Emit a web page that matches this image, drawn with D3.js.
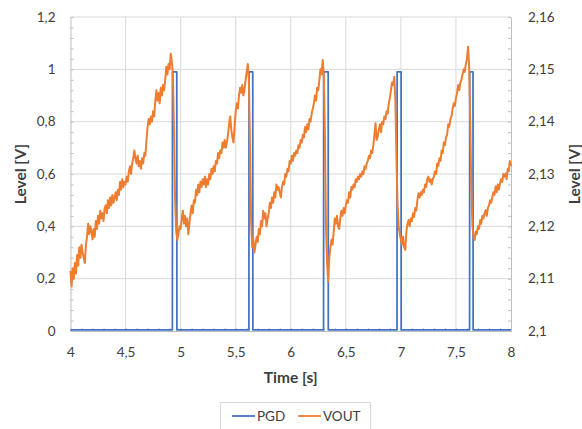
<!DOCTYPE html>
<html>
<head>
<meta charset="utf-8">
<script src="https://cdn.jsdelivr.net/npm/d3@7"></script>
<style>
  body { margin: 0; background: #fff; }
  svg text { font-family: Lato, "Open Sans", sans-serif; fill: #404040; }
</style>
</head>
<body>
<div id="chart"></div>
<script>
// sample clock of the scope capture (VOUT samples every 10 ms from 4 s)
const voutStart = 4;
const voutStep = 0.01;

// VOUT [V], secondary axis
const voutLevel = [
  2.1115, 2.1085, 2.1120, 2.1100, 2.1130, 2.1110, 2.1145, 2.1125, 2.1160, 2.1140,
  2.1165, 2.1150, 2.1140, 2.1130, 2.1165, 2.1180, 2.1205, 2.1185, 2.1200, 2.1190,
  2.1175, 2.1195, 2.1180, 2.1210, 2.1195, 2.1220, 2.1205, 2.1230, 2.1215, 2.1225,
  2.1210, 2.1235, 2.1240, 2.1225, 2.1250, 2.1235, 2.1255, 2.1240, 2.1260, 2.1245,
  2.1255, 2.1265, 2.1250, 2.1270, 2.1260, 2.1285, 2.1270, 2.1290, 2.1275, 2.1285,
  2.1280, 2.1295, 2.1285, 2.1305, 2.1315, 2.1300, 2.1320, 2.1330, 2.1345, 2.1330,
  2.1320, 2.1335, 2.1315, 2.1325, 2.1310, 2.1330, 2.1320, 2.1340, 2.1335, 2.1365,
  2.1390, 2.1405, 2.1395, 2.1410, 2.1400, 2.1420, 2.1410, 2.1440, 2.1460, 2.1440,
  2.1455, 2.1435, 2.1465, 2.1450, 2.1470, 2.1460, 2.1480, 2.1505, 2.1490, 2.1510,
  2.1500, 2.1530, 2.1515, 2.1490, 2.1380, 2.1250, 2.1190, 2.1174, 2.1185, 2.1200,
  2.1195, 2.1215, 2.1230, 2.1205, 2.1220, 2.1200, 2.1215, 2.1185, 2.1205, 2.1225,
  2.1240, 2.1225, 2.1250, 2.1245, 2.1270, 2.1260, 2.1280, 2.1265, 2.1285, 2.1275,
  2.1290, 2.1280, 2.1295, 2.1275, 2.1290, 2.1280, 2.1300, 2.1290, 2.1310, 2.1300,
  2.1315, 2.1305, 2.1325, 2.1320, 2.1340, 2.1330, 2.1345, 2.1340, 2.1360, 2.1350,
  2.1365, 2.1350, 2.1360, 2.1375, 2.1395, 2.1410, 2.1385, 2.1370, 2.1360, 2.1390,
  2.1420, 2.1435, 2.1425, 2.1450, 2.1465, 2.1455, 2.1470, 2.1450, 2.1460, 2.1480,
  2.1495, 2.1510, 2.1480, 2.1350, 2.1210, 2.1160, 2.1175, 2.1150, 2.1165, 2.1180,
  2.1170, 2.1195, 2.1185, 2.1210, 2.1200, 2.1230, 2.1215, 2.1225, 2.1200, 2.1215,
  2.1225, 2.1245, 2.1235, 2.1255, 2.1245, 2.1265, 2.1255, 2.1280, 2.1270, 2.1275,
  2.1265, 2.1255, 2.1275, 2.1285, 2.1280, 2.1300, 2.1295, 2.1310, 2.1305, 2.1325,
  2.1320, 2.1335, 2.1325, 2.1340, 2.1335, 2.1345, 2.1340, 2.1355, 2.1350, 2.1365,
  2.1360, 2.1375, 2.1370, 2.1390, 2.1380, 2.1395, 2.1385, 2.1405, 2.1400, 2.1415,
  2.1425, 2.1435, 2.1450, 2.1440, 2.1465, 2.1460, 2.1480, 2.1500, 2.1490, 2.1518,
  2.1490, 2.1380, 2.1200, 2.1130, 2.1095, 2.1140, 2.1160, 2.1175, 2.1165, 2.1190,
  2.1215, 2.1205, 2.1220, 2.1200, 2.1195, 2.1215, 2.1230, 2.1220, 2.1235, 2.1225,
  2.1240, 2.1250, 2.1245, 2.1265, 2.1255, 2.1275, 2.1270, 2.1280, 2.1275, 2.1290,
  2.1285, 2.1295, 2.1290, 2.1300, 2.1295, 2.1305, 2.1300, 2.1315, 2.1310, 2.1320,
  2.1325, 2.1335, 2.1330, 2.1345, 2.1340, 2.1355, 2.1375, 2.1397, 2.1365, 2.1372,
  2.1385, 2.1395, 2.1380, 2.1400, 2.1395, 2.1410, 2.1405, 2.1420, 2.1415, 2.1435,
  2.1445, 2.1460, 2.1475, 2.1470, 2.1486, 2.1440, 2.1330, 2.1240, 2.1200, 2.1185,
  2.1175, 2.1165, 2.1180, 2.1160, 2.1155, 2.1190, 2.1205, 2.1212, 2.1200, 2.1215,
  2.1210, 2.1225, 2.1218, 2.1235, 2.1230, 2.1250, 2.1263, 2.1255, 2.1265, 2.1260,
  2.1270, 2.1265, 2.1280, 2.1275, 2.1290, 2.1295, 2.1285, 2.1290, 2.1280, 2.1290,
  2.1295, 2.1305, 2.1300, 2.1320, 2.1315, 2.1330, 2.1325, 2.1345, 2.1340, 2.1360,
  2.1355, 2.1370, 2.1375, 2.1395, 2.1390, 2.1405, 2.1410, 2.1425, 2.1435, 2.1430,
  2.1445, 2.1455, 2.1470, 2.1460, 2.1475, 2.1480, 2.1490, 2.1500, 2.1495, 2.1510,
  2.1520, 2.1543, 2.1505, 2.1400, 2.1270, 2.1200, 2.1180, 2.1174, 2.1190, 2.1185,
  2.1200, 2.1195, 2.1212, 2.1205, 2.1220, 2.1215, 2.1225, 2.1231, 2.1220, 2.1235,
  2.1240, 2.1250, 2.1245, 2.1255, 2.1265, 2.1260, 2.1276, 2.1265, 2.1280, 2.1270,
  2.1282, 2.1290, 2.1285, 2.1300, 2.1295, 2.1301, 2.1290, 2.1310, 2.1305, 2.1325,
  2.1315
];

// PGD [V], primary axis: a pulse at each VOUT reset
const pgdTime = [4, 4.925, 4.926, 4.965, 4.966, 5.620, 5.621, 5.655, 5.656, 6.298, 6.299,
  6.340, 6.341, 6.965, 6.966, 7.002, 7.003, 7.624, 7.625, 7.655, 7.656, 8];
const pgdLevel = [0.004, 0.004, 0.99, 0.99, 0.004, 0.004, 0.99, 0.99, 0.004, 0.004, 0.99,
  0.99, 0.004, 0.004, 0.99, 0.99, 0.004, 0.004, 0.99, 0.99, 0.004, 0.004];

const xTicks = [4, 4.5, 5, 5.5, 6, 6.5, 7, 7.5, 8];
const leftTicks = [0, 0.2, 0.4, 0.6, 0.8, 1, 1.2];
const rightTicks = [2.1, 2.11, 2.12, 2.13, 2.14, 2.15, 2.16];
const seriesNames = ["PGD", "VOUT"];

document.addEventListener("DOMContentLoaded", function () {
    const width = 582;
    const height = 429;
    const plot = { left: 70.5, right: 511, top: 17, bottom: 331 };
    const colors = { PGD: "#4472C4", VOUT: "#ED7D31" };
    const comma = d => String(d).replace(".", ",");

    const svg = d3.select("#chart")
        .append("svg")
        .attr("width", width)
        .attr("height", height);

    const x = d3.scaleLinear().domain([4, 8]).range([plot.left, plot.right]);
    const yL = d3.scaleLinear().domain([0, 1.2]).range([plot.bottom, plot.top]);
    const yR = d3.scaleLinear().domain([2.1, 2.16]).range([plot.bottom, plot.top]);

    // gridlines
    svg.append("g")
        .selectAll("line.v")
        .data(xTicks.slice(1, -1))
        .join("line")
        .attr("x1", d => x(d)).attr("x2", d => x(d))
        .attr("y1", plot.top).attr("y2", plot.bottom)
        .attr("stroke", "#d9d9d9");
    svg.append("g")
        .selectAll("line.h")
        .data(leftTicks.slice(1))
        .join("line")
        .attr("x1", plot.left).attr("x2", plot.right)
        .attr("y1", d => yL(d)).attr("y2", d => yL(d))
        .attr("stroke", "#d9d9d9");

    // minor ticks point into the plot area
    const minorX = d3.range(0, 41).map(i => 4 + i * 0.1);
    const minorL = d3.range(0, 31).map(i => i * 0.04);
    const minorR = d3.range(0, 31).map(i => 2.1 + i * 0.002);

    function styleAxis(g) {
        g.select(".domain").attr("stroke", "#bfbfbf");
        g.selectAll(".tick line").attr("stroke", "#bfbfbf");
        g.selectAll(".tick text").style("font-size", "13.5px").attr("fill", "#404040");
    }

    svg.append("g")
        .attr("transform", `translate(0,${plot.bottom})`)
        .call(d3.axisBottom(x).tickValues(minorX).tickSize(-3).tickFormat("").tickSizeOuter(0))
        .call(styleAxis);
    svg.append("g")
        .attr("transform", `translate(0,${plot.bottom})`)
        .call(d3.axisBottom(x).tickValues(xTicks).tickSize(0).tickPadding(16).tickFormat(comma))
        .call(styleAxis)
        .call(g => g.select(".domain").remove());

    svg.append("g")
        .attr("transform", `translate(${plot.left},0)`)
        .call(d3.axisLeft(yL).tickValues(minorL).tickSize(-3).tickFormat("").tickSizeOuter(0))
        .call(styleAxis);
    svg.append("g")
        .attr("transform", `translate(${plot.left},0)`)
        .call(d3.axisLeft(yL).tickValues(leftTicks).tickSize(0).tickPadding(15).tickFormat(comma))
        .call(styleAxis)
        .call(g => g.select(".domain").remove());

    svg.append("g")
        .attr("transform", `translate(${plot.right},0)`)
        .call(d3.axisRight(yR).tickValues(minorR).tickSize(-3).tickFormat("").tickSizeOuter(0))
        .call(styleAxis);
    svg.append("g")
        .attr("transform", `translate(${plot.right},0)`)
        .call(d3.axisRight(yR).tickValues(rightTicks).tickSize(0).tickPadding(17).tickFormat(comma))
        .call(styleAxis)
        .call(g => g.select(".domain").remove());

    // series
    const pgdData = pgdTime.map((t, i) => ({ t: t, v: pgdLevel[i] }));
    const voutData = voutLevel.map((v, i) => ({ t: voutStart + i * voutStep, v: v }));

    svg.append("path")
        .datum(pgdData)
        .attr("fill", "none")
        .attr("stroke", colors.PGD)
        .attr("stroke-width", 1.75)
        .attr("stroke-linejoin", "round")
        .attr("d", d3.line().x(d => x(d.t)).y(d => yL(d.v)));

    svg.append("path")
        .datum(voutData)
        .attr("fill", "none")
        .attr("stroke", colors.VOUT)
        .attr("stroke-width", 2)
        .attr("stroke-linejoin", "round")
        .attr("d", d3.line().x(d => x(d.t)).y(d => yR(d.v)));

    // axis titles
    svg.append("text")
        .attr("x", (plot.left + plot.right) / 2)
        .attr("y", 383)
        .attr("text-anchor", "middle")
        .style("font-size", "15.5px")
        .style("font-weight", "bold")
        .text("Time [s]");
    svg.append("text")
        .attr("transform", `translate(26,${(plot.top + plot.bottom) / 2}) rotate(-90)`)
        .attr("text-anchor", "middle")
        .style("font-size", "15.5px")
        .style("font-weight", "bold")
        .text("Level [V]");
    svg.append("text")
        .attr("transform", `translate(580,${(plot.top + plot.bottom) / 2}) rotate(-90)`)
        .attr("text-anchor", "middle")
        .style("font-size", "15.5px")
        .style("font-weight", "bold")
        .text("Level [V]");

    // legend
    const legend = svg.append("g");
    legend.append("rect")
        .attr("x", 220.5).attr("y", 402.5)
        .attr("width", 150).attr("height", 30)
        .attr("fill", "#fff")
        .attr("stroke", "#d9d9d9");
    const items = legend.selectAll("g.item")
        .data(seriesNames)
        .join("g")
        .attr("transform", (d, i) => `translate(${232 + i * 66},416)`);
    items.append("line")
        .attr("x1", 0).attr("x2", 23)
        .attr("stroke", d => colors[d])
        .attr("stroke-width", 1.75);
    items.append("text")
        .attr("x", 25)
        .attr("dy", "0.36em")
        .style("font-size", "13.5px")
        .text(d => d);
});
</script>
</body>
</html>
